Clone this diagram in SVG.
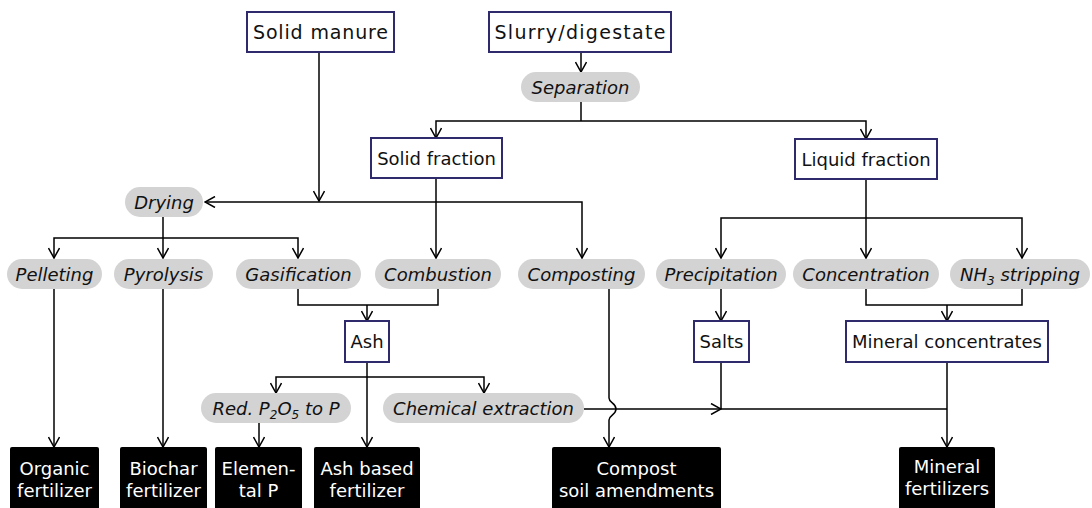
<svg xmlns="http://www.w3.org/2000/svg" width="1092" height="508" viewBox="0 0 1092 508">
<defs>
<marker id="arr" viewBox="0 0 12 12" refX="11" refY="6" markerWidth="12" markerHeight="12" markerUnits="userSpaceOnUse" orient="auto">
<path d="M1,0.5 L11,6 L1,11.5" fill="none" stroke="#000" stroke-width="1.5"/>
</marker>
<style>
.box{fill:#fff;stroke:#2e2a6b;stroke-width:2}
.pill{fill:#d3d3d3;stroke:none}
.out{fill:#000}
text{font-family:"DejaVu Sans","Liberation Sans",sans-serif;font-size:18px;text-anchor:middle;fill:#111}
.big{font-size:19px}
.it{font-style:italic}
.w{fill:#fff}
.c{fill:none;stroke:#000;stroke-width:1.5}
.a{marker-end:url(#arr)}
</style>
</defs>
<rect width="1092" height="508" fill="#fff"/>
<g id="connectors">
<path class="c a" d="M319,52 V201"/>
<path class="c a" d="M436,202 H205"/>
<path class="c a" d="M436,202 H582 V258"/>
<path class="c a" d="M436,178 V258"/>
<path class="c a" d="M581,52 V72"/>
<path class="c" d="M581,102 V121"/>
<path class="c a" d="M581,121 H436 V138"/>
<path class="c a" d="M581,121 H866 V139"/>
<path class="c a" d="M163,217 V258"/>
<path class="c a" d="M163,238 H54 V258"/>
<path class="c a" d="M163,238 H298 V258"/>
<path class="c a" d="M866,179 V258"/>
<path class="c a" d="M866,218 H721 V258"/>
<path class="c a" d="M866,218 H1022 V258"/>
<path class="c" d="M298,289 V305 H438 V289"/>
<path class="c a" d="M367,305 V321"/>
<path class="c a" d="M721,289 V321"/>
<path class="c" d="M866,289 V305 H1022 V289"/>
<path class="c a" d="M947,305 V321"/>
<path class="c a" d="M367,362 V447"/>
<path class="c a" d="M367,377 H276 V393"/>
<path class="c a" d="M367,377 H484 V393"/>
<path class="c a" d="M54,289 V447"/>
<path class="c a" d="M163,289 V447"/>
<path class="c a" d="M259,423 V447"/>
<path class="c a" d="M609,289 V398 C609,403 616,403 616,409 C616,415 609,415 609,420 V447"/>
<path class="c a" d="M584,409 H721"/>
<path class="c" d="M721,362 V409 H947"/>
<path class="c a" d="M947,362 V447"/>
</g>
<g id="solid-manure"><rect class="box" x="247" y="12" width="147" height="40"/><text class="big" x="320.5" y="39" textLength="135" lengthAdjust="spacing">Solid manure</text></g>
<g id="slurry"><rect class="box" x="489" y="12" width="182" height="40"/><text class="big" x="580" y="39" textLength="171" lengthAdjust="spacing">Slurry/digestate</text></g>
<g id="separation"><rect class="pill" x="521" y="72" width="119" height="30" rx="15"/><text class="it" x="580.5" y="93.5">Separation</text></g>
<g id="solid-fraction"><rect class="box" x="371" y="138" width="131" height="40"/><text x="436.5" y="164.5">Solid fraction</text></g>
<g id="liquid-fraction"><rect class="box" x="795" y="139" width="142" height="40"/><text x="866" y="165.5">Liquid fraction</text></g>
<g id="drying"><rect class="pill" x="125" y="187" width="78" height="30" rx="15"/><text class="it" x="164" y="208.5">Drying</text></g>
<g id="pelleting"><rect class="pill" x="7" y="259" width="95" height="30" rx="15"/><text class="it" x="54.5" y="280.5">Pelleting</text></g>
<g id="pyrolysis"><rect class="pill" x="114" y="259" width="99" height="30" rx="15"/><text class="it" x="163.5" y="280.5">Pyrolysis</text></g>
<g id="gasification"><rect class="pill" x="236" y="259" width="125" height="30" rx="15"/><text class="it" x="298.5" y="280.5">Gasification</text></g>
<g id="combustion"><rect class="pill" x="375" y="259" width="126" height="30" rx="15"/><text class="it" x="438" y="280.5">Combustion</text></g>
<g id="composting"><rect class="pill" x="518" y="259" width="127" height="30" rx="15"/><text class="it" x="581.5" y="280.5">Composting</text></g>
<g id="precipitation"><rect class="pill" x="656" y="259" width="130" height="30" rx="15"/><text class="it" x="721" y="280.5">Precipitation</text></g>
<g id="concentration"><rect class="pill" x="793" y="259" width="146" height="30" rx="15"/><text class="it" x="866" y="280.5">Concentration</text></g>
<g id="nh3-stripping"><rect class="pill" x="950" y="259" width="140" height="30" rx="15"/><text class="it" x="1020" y="280.5">NH<tspan font-size="12" dy="4">3</tspan><tspan dy="-4"> stripping</tspan></text></g>
<g id="ash"><rect class="box" x="345" y="321" width="44" height="41"/><text x="367" y="348">Ash</text></g>
<g id="salts"><rect class="box" x="694" y="321" width="55" height="41"/><text x="721.5" y="348">Salts</text></g>
<g id="mineral-concentrates"><rect class="box" x="846" y="321" width="202" height="41"/><text x="947" y="348">Mineral concentrates</text></g>
<g id="red-p2o5"><rect class="pill" x="201" y="393" width="150" height="30" rx="15"/><text class="it" x="276" y="414.5">Red. P<tspan font-size="12" dy="4">2</tspan><tspan dy="-4">O</tspan><tspan font-size="12" dy="4">5</tspan><tspan dy="-4"> to P</tspan></text></g>
<g id="chemical-extraction"><rect class="pill" x="383" y="393" width="201" height="30" rx="15"/><text class="it" x="483.5" y="414.5">Chemical extraction</text></g>
<g id="organic-fertilizer"><rect class="out" x="10" y="447" width="89" height="66" rx="2"/><text class="w" x="54.5" y="475">Organic</text><text class="w" x="54.5" y="497">fertilizer</text></g>
<g id="biochar-fertilizer"><rect class="out" x="120" y="447" width="87" height="66" rx="2"/><text class="w" x="163.5" y="475">Biochar</text><text class="w" x="163.5" y="497">fertilizer</text></g>
<g id="elemental-p"><rect class="out" x="215" y="447" width="87" height="66" rx="2"/><text class="w" x="258.5" y="475">Elemen-</text><text class="w" x="258.5" y="497">tal P</text></g>
<g id="ash-based-fertilizer"><rect class="out" x="314" y="447" width="106" height="66" rx="2"/><text class="w" x="367" y="475">Ash based</text><text class="w" x="367" y="497">fertilizer</text></g>
<g id="compost"><rect class="out" x="552" y="447" width="169" height="66" rx="2"/><text class="w" x="636.5" y="475">Compost</text><text class="w" x="636.5" y="497">soil amendments</text></g>
<g id="mineral-fertilizers"><rect class="out" x="899" y="447" width="96" height="66" rx="2"/><text class="w" x="947" y="473">Mineral</text><text class="w" x="947" y="495">fertilizers</text></g>
</svg>
